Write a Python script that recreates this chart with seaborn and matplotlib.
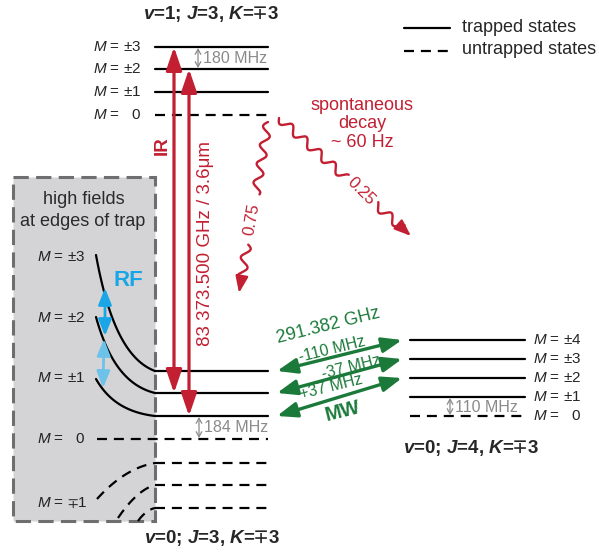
import numpy as np
import pandas as pd
import matplotlib
matplotlib.use("Agg")
import matplotlib.pyplot as plt
import seaborn as sns
from matplotlib.patches import Rectangle, FancyArrowPatch

sns.set_style("white")
plt.rcParams["font.family"] = ["Liberation Sans", "DejaVu Sans"]
plt.rcParams["mathtext.fontset"] = "custom"
plt.rcParams["mathtext.rm"] = "Liberation Sans"
plt.rcParams["mathtext.it"] = "Liberation Sans:italic"
plt.rcParams["mathtext.bf"] = "Liberation Sans:bold"
plt.rcParams["mathtext.bfit"] = "Liberation Sans:italic:bold"
plt.rcParams["mathtext.fallback"] = "stixsans"

# ---- level scheme -------------------------------------------------------
upper_M = ["±3", "±2", "±1", "0"]
upper_trapped = [True, True, True, False]
upper_E = [47, 69, 92, 115]

lower_M = ["±3", "±2", "±1", "0", "∓1", "∓2", "∓3"]
lower_trapped = [True, True, True, False, False, False, False]
lower_E = [371, 393, 416, 439, 463, 485, 508]

j4_M = ["±4", "±3", "±2", "±1", "0"]
j4_trapped = [True, True, True, True, False]
j4_E = [340, 359, 378, 397, 416]

# high-field energies at the trap edge (start of the curved levels)
edge_E_trapped = [255, 317, 379]
edge_M_labels = ["±3", "±2", "±1", "0", "∓1"]

upper_title = r"$\mathbfit{v}$=1; $\mathbfit{J}$=3, $\mathbfit{K}$=$\mathbf{\mp}$3"
lower_title = r"$\mathbfit{v}$=0; $\mathbfit{J}$=3, $\mathbfit{K}$=$\mathbf{\mp}$3"
j4_title = r"$\mathbfit{v}$=0; $\mathbfit{J}$=4, $\mathbfit{K}$=$\mathbf{\mp}$3"

splittings = ["180 MHz", "184 MHz", "110 MHz"]
ir_label = "83 373.500 GHz / 3.6μm"
mw_label = "291.382 GHz"
mw_shifts = ["-110 MHz", "-37 MHz", "+37 MHz"]
branching = ["0.75", "0.25"]
decay_label = "spontaneous\ndecay\n~ 60 Hz"

RED = "#c21f32"
GREEN = "#1b7a3a"
BLUE = "#1aa6e6"
LBLUE = "#6cc2e8"
GRAY = "#8a8a8a"

fig = plt.figure(figsize=(5.99, 5.54), dpi=100)
ax = fig.add_axes([0, 0, 1, 1])


def m_label(m):
    if m == "0":
        return "$M$ =   0"
    if m.startswith("∓"):
        return r"$M$ = $\mp$" + m[1:]
    return f"$M$ = {m}"

# trap-edge region
ax.add_patch(Rectangle((13, 177), 142, 344, facecolor="#d4d4d6",
                       edgecolor="#6e6e6e", lw=2.2,
                       linestyle=(0, (5, 2.4)), zorder=1))

# ---- horizontal levels drawn with seaborn ------------------------------
rows = []
def add_manifold(name, energies, trapped, x0, x1, x0_special=None):
    for i, (e, t) in enumerate(zip(energies, trapped)):
        start = x0
        if x0_special is not None and i in x0_special:
            start = x0_special[i]
        kind = "trapped" if t else "untrapped"
        rows.append({"level": f"{name}{i}", "x": start, "E": e, "kind": kind})
        rows.append({"level": f"{name}{i}", "x": x1, "E": e, "kind": kind})

add_manifold("up", upper_E, upper_trapped, 155, 268)
add_manifold("lo", lower_E, lower_trapped, 155, 268, {3: 97})
add_manifold("j4", j4_E, j4_trapped, 410, 525)
levels = pd.DataFrame(rows)

DASH = (4.5, 3.1)
sns.lineplot(data=levels, x="x", y="E", units="level", style="kind",
             estimator=None, sort=False, color="black", lw=1.6,
             dashes={"trapped": "", "untrapped": DASH}, legend=False,
             ax=ax, zorder=3)
ax.set_xlim(0, 599)
ax.set_ylim(554, 0)
ax.axis("off")


def cubic(p0, p1, p2, p3, n=80):
    t = np.linspace(0, 1, n)[:, None]
    p0, p1, p2, p3 = map(np.asarray, (p0, p1, p2, p3))
    return ((1 - t) ** 3 * p0 + 3 * (1 - t) ** 2 * t * p1
            + 3 * (1 - t) * t ** 2 * p2 + t ** 3 * p3)

# curved levels inside the high-field region
for e0, e1 in zip(edge_E_trapped, lower_E[:3]):
    dy = e1 - e0
    c = cubic((96, e0), (107, e0 + 0.52 * dy), (124, e0 + 0.9 * dy), (155, e1))
    ax.plot(c[:, 0], c[:, 1], color="black", lw=1.6, zorder=3)

for p0, p1, p2 in [((97, 499), (125, 468), (155, lower_E[4])),
                   ((118, 518), (137, 490), (155, lower_E[5])),
                   ((138, 521), (146, 510), (155, lower_E[6]))]:
    c = cubic(p0, (np.array(p0) + 2 * np.array(p1)) / 3,
              (np.array(p2) + 2 * np.array(p1)) / 3, p2)
    ax.plot(c[:, 0], c[:, 1], color="black", lw=1.6,
            dashes=DASH, zorder=3)

# ---- level labels ------------------------------------------------------
LFS = 11
for m, e in zip(upper_M, upper_E):
    ax.text(93, e, m_label(m), fontsize=LFS, ha="left", va="center", zorder=5)
for m, e in zip(j4_M, j4_E):
    ax.text(533, e, m_label(m), fontsize=LFS, ha="left", va="center", zorder=5)
for m, e in zip(edge_M_labels, [257, 318, 378, 439, 503]):
    ax.text(37, e, m_label(m), fontsize=LFS, ha="left", va="center",
            color="#222222", zorder=5)

TFS = 13.5
ax.text(211, 14, upper_title, fontsize=TFS, fontweight="bold",
        ha="center", va="center")
ax.text(212, 538, lower_title, fontsize=TFS, fontweight="bold",
        ha="center", va="center")
ax.text(471, 448, j4_title, fontsize=TFS, fontweight="bold",
        ha="center", va="center")

ax.text(84, 199, "high fields", fontsize=13, ha="center", va="center",
        color="#2a2a2a")
ax.text(83, 222, "at edges of trap", fontsize=13, ha="center",
        va="center", color="#2a2a2a")

# ---- legend ------------------------------------------------------------
ax.plot([404, 450], [28, 28], color="black", lw=1.6)
ax.plot([404, 450], [51, 51], color="black", lw=1.6, dashes=DASH)
ax.text(462, 27, "trapped states", fontsize=13, va="center")
ax.text(462, 50, "untrapped states", fontsize=13, va="center")


def arrow(p0, p1, color, lw, style, ms, z=4):
    ax.add_patch(FancyArrowPatch(p0, p1, arrowstyle=style,
                                 mutation_scale=ms, color=color, lw=lw,
                                 shrinkA=0, shrinkB=0, zorder=z))

# small splitting markers
for (x, e0, e1), lab in zip([(198, upper_E[0], upper_E[1]),
                             (199, lower_E[2], lower_E[3]),
                             (450, j4_E[3], j4_E[4])], splittings):
    arrow((x, e0 + 1), (x, e1 - 1), GRAY, 0.9,
          "<->,head_length=0.45,head_width=0.25", 8)
    ax.text(x + 5, (e0 + e1) / 2 + 0.5, lab, fontsize=11.5, color=GRAY,
            va="center", ha="left", zorder=5)

# IR transitions
IR_STYLE = "<|-|>,head_length=1.0,head_width=0.34"
arrow((174, upper_E[0]), (174, lower_E[1]), RED, 2.3, IR_STYLE, 14)
arrow((189, upper_E[1]), (189, lower_E[2]), RED, 2.3, IR_STYLE, 14)
ax.text(162, 146, "IR", fontsize=13.5, fontweight="bold", color=RED,
        rotation=90, ha="center", va="center")
ax.text(205, 244, ir_label, fontsize=13.5, color=RED, rotation=90,
        ha="center", va="center")

# RF transitions
RF_STYLE = "<|-|>,head_length=0.9,head_width=0.36"
arrow((105, 288), (105, 336), BLUE, 2.0, RF_STYLE, 11)
arrow((104, 339), (103, 388), LBLUE, 2.0, RF_STYLE, 11)
ax.text(128, 280, "RF", fontsize=16, fontweight="bold", color=BLUE,
        ha="center", va="center")

# MW transitions
MW_STYLE = "<|-|>,head_length=1.0,head_width=0.38"
for i in range(3):
    arrow((277, lower_E[i]), (402, j4_E[i]), GREEN, 2.4, MW_STYLE, 12)
for lab, (x, y) in zip(mw_shifts, [(332, 349), (351, 367), (331, 387)]):
    ax.text(x, y, lab, fontsize=11.5, color=GREEN, rotation=14,
            ha="center", va="center", rotation_mode="anchor")
ax.text(328, 326, mw_label, fontsize=13, color=GREEN, rotation=14,
        ha="center", va="center", rotation_mode="anchor")
ax.text(343, 411, "MW", fontsize=14.5, fontweight="bold", color=GREEN,
        rotation=14, ha="center", va="center", rotation_mode="anchor")

# ---- spontaneous decay (wavy arrows) ----------------------------------
def wavy(p0, tip, amp, period, gap, label, rot):
    p0, tip = np.asarray(p0, float), np.asarray(tip, float)
    L = np.linalg.norm(tip - p0)
    d = (tip - p0) / L
    n = np.array([-d[1], d[0]])
    s = np.linspace(0, L - 12, 600)
    off = amp * np.sin(2 * np.pi * s / period)
    pts = p0 + np.outer(s, d) + np.outer(off, n)
    mask = (s > gap[0]) & (s < gap[1])
    pts[mask] = np.nan
    ax.plot(pts[:, 0], pts[:, 1], color=RED, lw=1.7, zorder=4)
    arrow(tuple(tip - d * 14), tuple(tip), RED, 1.7,
          "-|>,head_length=1.0,head_width=0.38", 10)
    c = p0 + d * (gap[0] + gap[1]) / 2
    ax.text(c[0], c[1], label, fontsize=12, color=RED, rotation=rot,
            ha="center", va="center", rotation_mode="anchor", zorder=5)

wavy((268, 122), (239, 293), 4.2, 19, (73, 124), branching[0], 80)
wavy((279, 118), (411, 236), 4.2, 19, (90, 130), branching[1], -45)

ax.text(362, 124, decay_label, fontsize=13, color=RED, ha="center",
        va="center", linespacing=1.15)

fig.savefig("out.png", dpi=100)
